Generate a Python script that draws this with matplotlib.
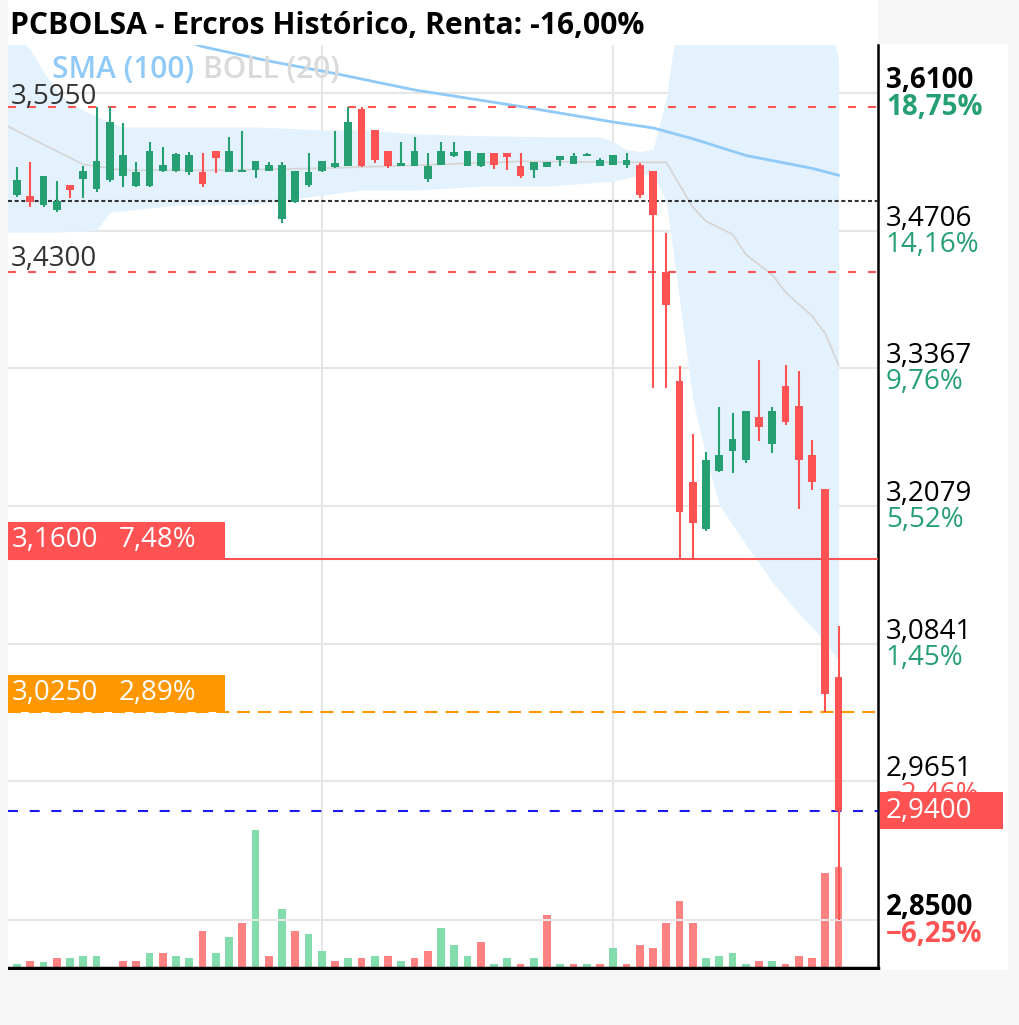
import numpy as np
import matplotlib.pyplot as plt
from matplotlib.patches import Rectangle

plt.rcParams['font.family'] = ['Open Sans', 'Noto Sans', 'DejaVu Sans']

# --- data (candles from late Nov 2024 to 26 Feb 2025, index = trading day) ---
opens = [3.500, 3.506, 3.505, 3.496, 3.491, 3.516, 3.522, 3.512, 3.521, 3.525, 3.5155, 3.5155,
         3.530, 3.530, 3.529, 3.529, 3.550, 3.529, 3.529, 3.531, 3.530, 3.482, 3.499, 3.516,
         3.530, 3.534, 3.535, 3.5935, 3.572, 3.550, 3.5355, 3.5355, 3.522, 3.536, 3.545, 3.5355,
         3.535, 3.548, 3.548, 3.5355, 3.531, 3.534, 3.541, 3.5375, 3.545, 3.535, 3.536, 3.5365,
         3.536, 3.530, 3.430, 3.325, 3.230, 3.187, 3.240, 3.259, 3.250, 3.291, 3.265, 3.320,
         3.301, 3.255, 3.224, 3.055]
highs = [3.518, 3.534, 3.539, 3.525, 3.520, 3.516, 3.535, 3.595, 3.595, 3.579, 3.539, 3.560,
         3.555, 3.548, 3.549, 3.548, 3.550, 3.565, 3.571, 3.540, 3.539, 3.539, 3.530, 3.548,
         3.540, 3.571, 3.595, 3.595, 3.572, 3.550, 3.560, 3.565, 3.548, 3.560, 3.560, 3.550,
         3.548, 3.548, 3.548, 3.548, 3.539, 3.539, 3.545, 3.548, 3.548, 3.543, 3.546, 3.548,
         3.5385, 3.530, 3.468, 3.339, 3.275, 3.2575, 3.300, 3.2946, 3.296, 3.345, 3.300, 3.340,
         3.3345, 3.269, 3.224, 3.100]
lows = [3.498, 3.504, 3.494, 3.494, 3.489, 3.503, 3.503, 3.509, 3.519, 3.5145, 3.514, 3.514,
        3.529, 3.5295, 3.526, 3.5145, 3.528, 3.529, 3.529, 3.523, 3.530, 3.478, 3.498, 3.5145,
        3.529, 3.533, 3.535, 3.534, 3.5385, 3.533, 3.5355, 3.5355, 3.5195, 3.536, 3.544, 3.5355,
        3.534, 3.5325, 3.531, 3.523, 3.523, 3.534, 3.535, 3.5375, 3.545, 3.535, 3.536, 3.533,
        3.5035, 3.318, 3.318, 3.160, 3.160, 3.185, 3.239, 3.238, 3.248, 3.2685, 3.2565, 3.2835,
        3.205, 3.223, 3.025, 2.850]
closes = [3.516, 3.521, 3.499, 3.525, 3.500, 3.511, 3.530, 3.540, 3.580, 3.546, 3.529, 3.550,
          3.536, 3.547, 3.546, 3.517, 3.543, 3.550, 3.531, 3.540, 3.536, 3.5365, 3.530, 3.529,
          3.540, 3.538, 3.580, 3.5355, 3.541, 3.5355, 3.538, 3.550, 3.5355, 3.550, 3.549, 3.550,
          3.548, 3.536, 3.544, 3.525, 3.539, 3.539, 3.545, 3.545, 3.547, 3.541, 3.546, 3.541,
          3.506, 3.486, 3.398, 3.2025, 3.192, 3.250, 3.255, 3.270, 3.296, 3.281, 3.296, 3.286,
          3.250, 3.230, 3.040, 2.940]
volumes = [0, 16, 28, 26, 40, 40, 50, 50, 0, 28, 28, 60, 60, 48, 40, 148, 60, 125, 179, 552,
           48, 235, 148, 136, 69, 28, 40, 40, 48, 48, 28, 40, 69, 159, 92, 48, 103, 16, 40, 16,
           40, 212, 16, 16, 16, 16, 81, 16, 92, 81, 179, 268, 179, 40, 48, 59, 16, 28, 28, 16,
           48, 40, 379, 405]
vol_up = [1, 1, 0, 1, 0, 1, 1, 1, 1, 0, 0, 1, 0, 1, 1, 0, 1, 1, 0, 1,
          0, 1, 0, 1, 1, 0, 1, 0, 1, 0, 1, 0, 0, 1, 1, 1, 0, 1, 1, 0,
          1, 0, 1, 0, 1, 0, 1, 0, 0, 0, 0, 0, 0, 1, 1, 1, 1, 0, 1, 0,
          0, 0, 0, 0]
first_idx = -1  # first candle is partly cut by the left edge

# SMA(100), read at a few points
sma_idx = [12, 14, 19, 24, 30, 38, 45, 48, 51, 55, 60, 62]
sma_val = [3.668, 3.658, 3.643, 3.630, 3.613, 3.596, 3.580, 3.574, 3.563, 3.546, 3.533, 3.526]

# BOLL(20) middle and bands, read at a few points
boll_idx = [-1, 2, 5, 8, 15, 23, 30, 38, 46, 49, 51, 52, 54, 55, 57, 58, 60, 61, 62]
boll_mid = [3.578, 3.557, 3.537, 3.531, 3.531, 3.533, 3.536, 3.540, 3.539, 3.539, 3.494,
            3.480, 3.467, 3.447, 3.427, 3.410, 3.387, 3.370, 3.340]
band_idx = [-1, 0, 1, 2, 3, 4, 5, 6, 7, 8, 12, 18, 23, 26, 30, 35, 40, 44, 45, 46, 47, 48,
            49, 50, 51, 52, 53, 54, 55, 56, 57, 58, 59, 60, 61, 62]
band_up = [3.675, 3.668, 3.655, 3.632, 3.612, 3.600, 3.592, 3.586, 3.580, 3.575, 3.575,
           3.575, 3.572, 3.572, 3.568, 3.566, 3.565, 3.565, 3.560, 3.552, 3.550, 3.552,
           3.605, 3.700, 3.700, 3.700, 3.700, 3.700, 3.700, 3.700, 3.700, 3.700, 3.700,
           3.700, 3.700, 3.646]
band_lo = [3.469, 3.469, 3.469, 3.469, 3.469, 3.470, 3.470, 3.471, 3.489, 3.490, 3.496,
           3.497, 3.506, 3.511, 3.511, 3.515, 3.515, 3.519, 3.520, 3.523, 3.526, 3.527,
           3.500, 3.403, 3.307, 3.254, 3.209, 3.191, 3.173, 3.156, 3.139, 3.125, 3.111,
           3.099, 3.085, 3.070]

# horizontal levels
lvl_hi, lvl_lo, lvl_mid = 3.595, 3.430, 3.500
lvl_stop, lvl_target, lvl_last = 3.160, 3.025, 2.940

# right axis ticks
yticks = [3.6100, 3.4706, 3.3367, 3.2079, 3.0841, 2.9651, 2.8500]
ytick_txt = ['3,6100', '3,4706', '3,3367', '3,2079', '3,0841', '2,9651', '2,8500']
ypct_txt = ['18,75%', '14,16%', '9,76%', '5,52%', '1,45%', '-2,46%', '-6,25%']

xtick_pos = [3, 23, 45]
xtick_txt = ['Dic', '2025', 'Feb']

GREEN = '#26a073'
RED = '#ff5252'
VGREEN = '#82dcab'
VRED = '#ff8282'
FS = 20

W, H = 1020, 1025
fig = plt.figure(figsize=(W / 100, H / 100), dpi=100)
fig.patch.set_facecolor('white')

# light frame round the chart
for r in [(0, 0, 8, H), (1008, 0, 12, H), (0, 970, W, 55), (878, 0, 142, 44)]:
    fig.patches.append(Rectangle((r[0] / W, 1 - (r[1] + r[3]) / H), r[2] / W, r[3] / H,
                                 transform=fig.transFigure, fc='#f6f6f6', ec='none', zorder=0))

AX_H = 923
rect = [8 / W, 57 / H, 870 / W, AX_H / H]
axv = fig.add_axes(rect)
ax = fig.add_axes(rect, sharex=axv)
ax.patch.set_alpha(0)

x = np.arange(first_idx, first_idx + len(closes))
o = np.array(opens)
c = np.array(closes)
hi = np.array(highs)
lo = np.array(lows)
up = c >= o

# volume
vcol = [VGREEN if u else VRED for u in vol_up]
axv.bar(x, volumes, width=0.6, color=vcol, zorder=2)
axv.set_ylim(0, AX_H * 4)
axv.set_yticks([])
for s in axv.spines.values():
    s.set_visible(False)

ymin, ymax = 2.8112, 3.6597
ax.set_yscale('log')
ax.set_ylim(ymin, ymax)
ax.set_xlim(-0.68, 64.98)
ln_px = np.log(ymax / ymin) / AX_H  # log-price per pixel

# grid
for t in yticks:
    ax.axhline(t, color='#e6e6e6', lw=1.5, zorder=0)
for p in [23, 45]:
    axv.axvline(p, color='#e6e6e6', lw=1.5, zorder=0)

# bollinger
ax.fill_between(band_idx, band_lo, band_up, color='#e3f2fd', lw=0, zorder=1)
ax.plot(boll_idx, boll_mid, color='#d6d6d6', lw=1.3, zorder=2)
ax.plot(sma_idx, sma_val, color='#90caf9', lw=2, zorder=2)

# levels
ax.axhline(lvl_hi, color=RED, lw=1.5, ls=(0, (3.8, 5.8)), zorder=3)
ax.axhline(lvl_lo, color=RED, lw=1.5, ls=(0, (3.8, 5.8)), zorder=3)
ax.axhline(lvl_mid, color='#333333', lw=1.5, ls=(0, (1.9, 1.3)), zorder=3)
ax.axhline(lvl_stop, color=RED, lw=1.5, zorder=3)
ax.axhline(lvl_target, color='#ff9800', lw=1.5, ls=(0, (6.2, 3.8)), zorder=3)
ax.axhline(lvl_last, color='#1a1aee', lw=1.5, ls=(0, (4.8, 5.6)), zorder=3)

# candles
col = np.where(up, GREEN, RED)
ax.vlines(x, lo, hi, colors=col, lw=1.5, zorder=4)
bh = np.maximum(np.abs(c - o), 0.0018)
ax.bar(x, bh, bottom=np.minimum(o, c), width=0.6, color=col, zorder=5)

# axes look
ax.set_yticks([])
ax.yaxis.set_minor_locator(plt.NullLocator())
for s in ['top', 'left']:
    ax.spines[s].set_visible(False)
ax.spines['right'].set_linewidth(1.8)
ax.spines['bottom'].set_linewidth(2.5)
ax.set_xticks(xtick_pos)
ax.set_xticklabels(xtick_txt, fontsize=FS)
ax.get_xticklabels()[1].set_fontweight('bold')
ax.tick_params(axis='x', length=0, pad=11)
axv.tick_params(axis='x', length=0, labelbottom=False)

# right axis labels
tr = ax.get_yaxis_transform()
for i, (t, s, pc) in enumerate(zip(yticks, ytick_txt, ypct_txt)):
    bold = i in (0, len(yticks) - 1)
    pcol = GREEN if not pc.startswith('-') else RED
    ax.text(1.009, t * np.exp(-2 * ln_px), s, transform=tr, fontsize=FS, va='bottom', ha='left',
            fontweight='bold' if bold else 'normal', color='black', clip_on=False)
    ax.text(1.009, t, pc.replace('-', '\u2212'), transform=tr, fontsize=FS, va='top', ha='left',
            fontweight='bold' if bold else 'normal', color=pcol, clip_on=False)


def level_box(level, x0, x1, top_px, bot_px, color):
    y0 = level * np.exp(bot_px * ln_px)
    y1 = level * np.exp(top_px * ln_px)
    box = Rectangle((x0, y0), x1 - x0, y1 - y0, transform=tr, fc=color, ec='none',
                    zorder=9, clip_on=False)
    ax.add_patch(box)
    return np.sqrt(y0 * y1)


# last price box
ym = level_box(lvl_last, 872 / 870, 995 / 870, 19, -18, RED)
ax.text(1.009, ym, '2,9400', transform=tr, fontsize=FS, va='center', ha='left',
        color='white', clip_on=False, zorder=10)

# left level boxes
ym = level_box(lvl_stop, 0, 217 / 870, 37, 0, RED)
ax.text(4 / 870, ym, '3,1600', transform=tr, fontsize=FS, va='center', ha='left', color='white', zorder=10)
ax.text(111 / 870, ym, '7,48%', transform=tr, fontsize=FS, va='center', ha='left', color='white', zorder=10)
ym = level_box(lvl_target, 0, 217 / 870, 37, 0, '#ff9800')
ax.text(4 / 870, ym, '3,0250', transform=tr, fontsize=FS, va='center', ha='left', color='white', zorder=10)
ax.text(111 / 870, ym, '2,89%', transform=tr, fontsize=FS, va='center', ha='left', color='white', zorder=10)

ax.text(0.003, lvl_hi * np.exp(-4 * ln_px), '3,5950', transform=tr, fontsize=FS, va='bottom',
        ha='left', color='#333333')
ax.text(0.003, lvl_lo * np.exp(-1 * ln_px), '3,4300', transform=tr, fontsize=FS, va='bottom',
        ha='left', color='#333333')

# indicator labels and title
ax.text(44 / 870, 0.9725, 'SMA (100)', transform=ax.transAxes, fontsize=21.5, color='#90caf9',
        fontweight='semibold', va='center')
ax.text(195 / 870, 0.9725, 'BOLL (20)', transform=ax.transAxes, fontsize=21.5, color='#dadada',
        fontweight='semibold', va='center')
fig.text(10 / W, 1 - 26 / H, 'PCBOLSA - Ercros Histórico, Renta: -16,00%', fontsize=21.7,
         fontweight='bold', va='center', ha='left')

fig.savefig('out.png', dpi=100)
